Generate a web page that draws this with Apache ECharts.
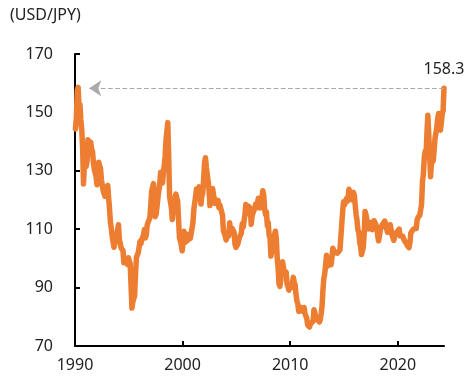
<!DOCTYPE html>
<html>
<head>
<meta charset="utf-8">
<script src="https://cdn.jsdelivr.net/npm/echarts@6/dist/echarts.min.js"></script>
<style>html,body{margin:0;padding:0;background:#fff}#c{width:473px;height:383px}</style>
</head>
<body>
<div id="c"></div>
<script>
// Monthly USD/JPY (approx.), one array per year, Jan..Dec
const y1990 = [144.3, 148.0, 157.6, 158.6, 151.7, 152.8, 147.4, 144.3, 137.9, 125.5, 132.8, 135.4];
const y1991 = [131.5, 133.5, 140.6, 137.4, 138.5, 139.8, 137.4, 136.7, 132.9, 130.6, 129.3, 128.1];
const y1992 = [125.2, 127.7, 132.9, 133.5, 130.6, 126.9, 127.2, 123.1, 122.5, 121.2, 123.9, 123.9];
const y1993 = [125.0, 120.8, 117.0, 112.4, 110.3, 107.4, 107.7, 103.8, 105.6, 107.0, 107.8, 109.7];
const y1994 = [111.5, 106.3, 105.1, 103.5, 104.0, 102.7, 98.5, 100.0, 98.8, 98.4, 98.0, 100.2];
const y1995 = [99.8, 98.2, 90.8, 83.0, 85.2, 84.6, 87.2, 94.6, 100.3, 100.7, 101.9, 101.9];
const y1996 = [105.8, 105.0, 106.5, 107.2, 108.4, 109.9, 107.0, 108.0, 111.4, 112.4, 112.3, 113.9];
const y1997 = [118.1, 123.0, 122.6, 125.6, 119.2, 114.3, 115.2, 117.9, 120.9, 121.1, 125.4, 129.5];
const y1998 = [127.0, 125.8, 129.0, 131.8, 135.0, 140.5, 140.7, 146.5, 134.5, 121.1, 120.6, 117.4];
const y1999 = [113.3, 116.7, 119.7, 119.7, 122.0, 120.7, 119.6, 113.2, 107.0, 106.0, 104.7, 102.6];
const y2000 = [105.2, 109.3, 106.3, 105.6, 108.3, 106.1, 108.2, 108.1, 106.8, 108.4, 109.0, 112.2];
const y2001 = [116.7, 116.1, 121.2, 123.8, 121.8, 122.2, 124.5, 121.5, 118.6, 121.5, 122.4, 127.5];
const y2002 = [132.7, 134.5, 131.1, 130.8, 126.4, 123.3, 118.1, 119.0, 120.5, 123.9, 121.7, 121.9];
const y2003 = [118.8, 119.3, 118.7, 119.9, 117.4, 118.3, 118.7, 118.7, 114.8, 109.5, 109.2, 107.7];
const y2004 = [106.3, 106.6, 108.5, 107.7, 112.2, 109.4, 109.5, 110.2, 110.0, 108.8, 104.7, 103.8];
const y2005 = [103.3, 104.9, 105.3, 107.3, 106.9, 108.6, 111.9, 110.6, 111.2, 114.9, 118.5, 118.5];
const y2006 = [115.5, 117.9, 117.3, 117.1, 111.7, 114.5, 115.6, 115.9, 117.2, 118.6, 117.3, 117.3];
const y2007 = [120.6, 120.5, 117.3, 118.8, 120.8, 123.2, 121.6, 116.7, 115.0, 115.9, 111.2, 112.3];
const y2008 = [107.8, 107.1, 100.8, 102.6, 104.4, 106.9, 106.9, 109.3, 106.8, 100.1, 96.8, 91.3];
const y2009 = [90.4, 92.5, 97.9, 98.8, 96.6, 96.6, 94.5, 95.3, 91.2, 90.4, 89.1, 89.5];
const y2010 = [91.1, 90.1, 90.7, 93.5, 91.8, 90.9, 87.5, 85.4, 84.4, 81.8, 82.6, 83.3];
const y2011 = [82.6, 82.5, 81.8, 83.2, 81.1, 80.5, 79.4, 77.2, 76.8, 76.5, 77.5, 77.8];
const y2012 = [76.9, 78.5, 82.4, 81.4, 79.7, 79.3, 78.9, 78.7, 78.2, 79.0, 80.9, 83.6];
const y2013 = [89.1, 93.1, 94.8, 97.7, 101.1, 97.3, 98.7, 97.8, 99.3, 97.8, 100.0, 103.5];
const y2014 = [103.9, 102.1, 102.3, 102.5, 101.8, 102.1, 101.7, 102.9, 107.4, 108.0, 116.2, 119.4];
const y2015 = [118.3, 118.8, 120.4, 119.5, 120.8, 123.7, 123.3, 123.2, 120.1, 120.1, 122.6, 121.7];
const y2016 = [118.2, 115.0, 113.0, 109.7, 109.0, 105.5, 104.1, 101.3, 101.9, 103.8, 108.6, 116.1];
const y2017 = [114.9, 113.0, 112.9, 110.1, 112.2, 110.9, 112.4, 109.8, 110.8, 112.9, 112.8, 112.9];
const y2018 = [110.9, 107.9, 106.0, 107.6, 109.7, 110.1, 111.4, 111.0, 112.0, 112.8, 113.4, 112.2];
const y2019 = [108.9, 110.5, 111.1, 111.6, 109.8, 108.0, 108.2, 106.2, 107.5, 108.2, 108.9, 109.1];
const y2020 = [109.3, 110.0, 107.7, 107.8, 107.2, 107.6, 106.7, 106.0, 105.6, 105.2, 104.4, 103.8];
const y2021 = [103.7, 105.4, 108.7, 109.1, 109.1, 110.1, 110.2, 109.8, 110.2, 113.1, 114.0, 113.8];
const y2022 = [114.8, 115.2, 118.5, 126.3, 128.8, 134.4, 136.7, 135.2, 143.1, 149.0, 142.4, 135.4];
const y2023 = [128.0, 132.7, 133.3, 133.4, 137.0, 141.2, 141.2, 144.8, 148.0, 149.6, 149.8, 143.9];
const y2024 = [146.4, 149.5, 150.6, 158.3];

const years = [1990,1991,1992,1993,1994,1995,1996,1997,1998,1999,2000,2001,2002,2003,2004,2005,2006,2007,2008,2009,2010,2011,2012,2013,2014,2015,2016,2017,2018,2019,2020,2021,2022,2023,2024];
const yearly = [y1990,y1991,y1992,y1993,y1994,y1995,y1996,y1997,y1998,y1999,y2000,y2001,y2002,y2003,y2004,y2005,y2006,y2007,y2008,y2009,y2010,y2011,y2012,y2013,y2014,y2015,y2016,y2017,y2018,y2019,y2020,y2021,y2022,y2023,y2024];

const unitLabel = '(USD/JPY)';
const lastLabel = '158.3';
const lastValue = 158.3;
const yTicks = [70, 90, 110, 130, 150, 170];
const xTicks = [1990, 2000, 2010, 2020];

const data = [];
yearly.forEach((arr, i) => arr.forEach((v, m) => data.push([years[i] + (m + 0.5) / 12, v])));
const lastX = data[data.length - 1][0];

const FONT = 'Noto Sans';
const chart = echarts.init(document.getElementById('c'), null, {renderer: 'canvas'});
chart.setOption({
  animation: false,
  backgroundColor: '#fff',
  textStyle: {fontFamily: FONT},
  title: {
    text: unitLabel, left: 5, top: 2,
    textStyle: {fontFamily: FONT, fontSize: 16, fontWeight: 'normal', color: '#222'}
  },
  grid: {left: 75, right: 29, top: 54, bottom: 37, containLabel: false},
  xAxis: {
    type: 'value', min: 1990, max: lastX, interval: 10,
    axisLine: {show: true, lineStyle: {color: '#000', width: 2}},
    axisTick: {show: true, inside: true, length: 5, lineStyle: {color: '#000', width: 2}},
    splitLine: {show: false},
    axisLabel: {
      showMaxLabel: false, margin: 11, fontSize: 16, color: '#222', fontFamily: FONT,
      formatter: v => xTicks.includes(v) ? String(v) : ''
    }
  },
  yAxis: {
    type: 'value', min: yTicks[0], max: yTicks[yTicks.length - 1], interval: 20,
    axisLine: {show: true, lineStyle: {color: '#000', width: 2}},
    axisTick: {show: true, inside: true, length: 5, lineStyle: {color: '#000', width: 2}},
    splitLine: {show: false},
    axisLabel: {margin: 22, fontSize: 16, color: '#222', fontFamily: FONT}
  },
  series: [{
    type: 'line',
    data: data,
    showSymbol: false,
    lineStyle: {color: '#ED7D31', width: 5.5, join: 'round', cap: 'round'},
    z: 3,
    markLine: {
      silent: true,
      symbol: ['none', 'arrow'],
      symbolSize: [12, 12],
      lineStyle: {color: '#aaa', type: 'dashed', width: 1.2},
      label: {show: false},
      data: [[{coord: [lastX, lastValue]}, {coord: [1991.32, lastValue]}]]
    },
    markPoint: {
      silent: true,
      symbol: 'circle', symbolSize: 1,
      itemStyle: {color: 'rgba(0,0,0,0)'},
      label: {
        show: true, formatter: lastLabel, position: 'top', distance: 10,
        fontSize: 16, color: '#222', fontFamily: FONT
      },
      data: [{coord: [lastX, lastValue]}]
    }
  }]
});
</script>
</body>
</html>
